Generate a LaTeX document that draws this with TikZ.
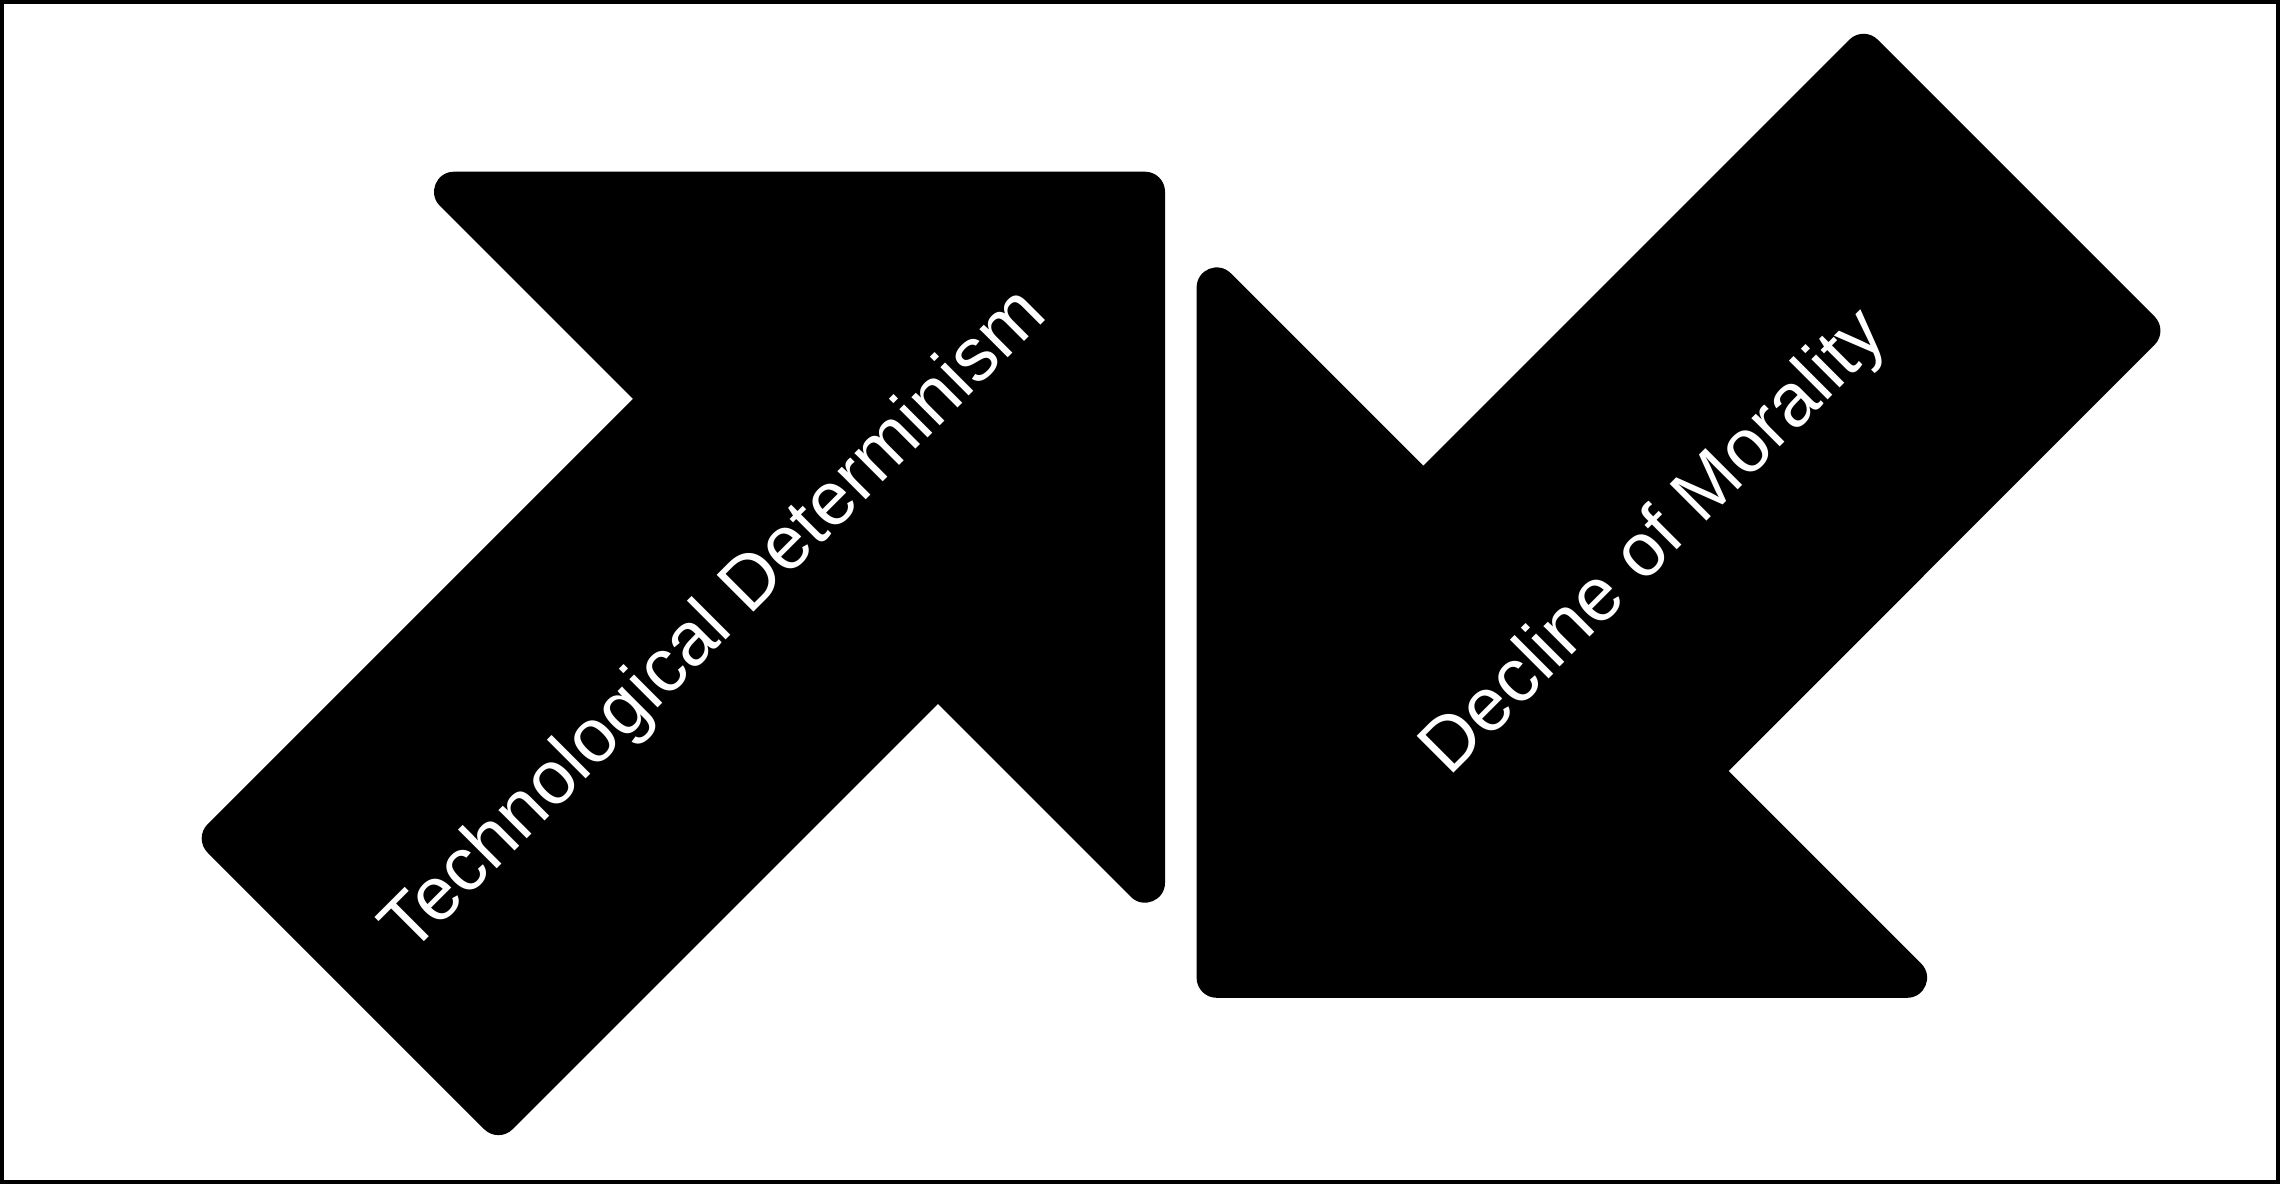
\documentclass[tikz,border=0pt]{standalone}
\usepackage{fontspec}
\setmainfont{Liberation Sans}
\usetikzlibrary{calc}
\begin{document}
\begin{tikzpicture}[x=0.01cm,y=0.01cm,
  arrowfill/.style={fill=black,draw=none},
  arrowlabel/.style={text=white,rotate=45,inner sep=0pt,font=\fontsize{21.5pt}{26pt}\selectfont},
  frame/.style={draw=black,line width=0.04cm}]
\useasboundingbox (0,0) rectangle (2280,1184);
% left arrow vertices
\coordinate (L1) at (193.4,345.6);
\coordinate (L2) at (632.9,785.1);
\coordinate (L3) at (405.7,1012.3);
\coordinate (L4) at (1165,1012.3);
\coordinate (L5) at (1165,253);
\coordinate (L6) at (937.9,480.1);
\coordinate (L7) at (498.4,40.6);
% right arrow vertices
\coordinate (R1) at (1863.5,1158.5);
\coordinate (R2) at (2168.7,853.3);
\coordinate (R3) at (1728.5,413);
\coordinate (R4) at (1955.4,186.2);
\coordinate (R5) at (1196.6,186.2);
\coordinate (R6) at (1196.6,944.9);
\coordinate (R7) at (1423.25,718.25);
% left arrow
\path[arrowfill] (L2)
  -- ($(L3)!0.483cm!(L2)$) .. controls ($(L3)!0.305cm!(L2)$) and ($(L3)!0.305cm!(L4)$) .. ($(L3)!0.483cm!(L4)$)
  -- ($(L4)!0.2cm!(L3)$) .. controls ($(L4)!0.0895cm!(L3)$) and ($(L4)!0.0895cm!(L5)$) .. ($(L4)!0.2cm!(L5)$)
  -- ($(L5)!0.483cm!(L4)$) .. controls ($(L5)!0.305cm!(L4)$) and ($(L5)!0.305cm!(L6)$) .. ($(L5)!0.483cm!(L6)$)
  -- (L6)
  -- ($(L7)!0.2cm!(L6)$) .. controls ($(L7)!0.0895cm!(L6)$) and ($(L7)!0.0895cm!(L1)$) .. ($(L7)!0.2cm!(L1)$)
  -- ($(L1)!0.2cm!(L7)$) .. controls ($(L1)!0.0895cm!(L7)$) and ($(L1)!0.0895cm!(L2)$) .. ($(L1)!0.2cm!(L2)$)
  -- cycle;
% right arrow
\path[arrowfill] (R7)
  -- ($(R1)!0.2cm!(R7)$) .. controls ($(R1)!0.0895cm!(R7)$) and ($(R1)!0.0895cm!(R2)$) .. ($(R1)!0.2cm!(R2)$)
  -- ($(R2)!0.2cm!(R1)$) .. controls ($(R2)!0.0895cm!(R1)$) and ($(R2)!0.0895cm!(R3)$) .. ($(R2)!0.2cm!(R3)$)
  -- (R3)
  -- ($(R4)!0.483cm!(R3)$) .. controls ($(R4)!0.305cm!(R3)$) and ($(R4)!0.305cm!(R5)$) .. ($(R4)!0.483cm!(R5)$)
  -- ($(R5)!0.2cm!(R4)$) .. controls ($(R5)!0.0895cm!(R4)$) and ($(R5)!0.0895cm!(R6)$) .. ($(R5)!0.2cm!(R6)$)
  -- ($(R6)!0.483cm!(R5)$) .. controls ($(R6)!0.305cm!(R5)$) and ($(R6)!0.305cm!(R7)$) .. ($(R6)!0.483cm!(R7)$)
  -- cycle;
% labels
\node[arrowlabel] (tdet) at (716,562) {Technological Determinism};
\node[arrowlabel] (dmor) at (1656,640) {Decline of Morality};
% frame
\draw[frame] (2,2) rectangle (2278,1182);
\end{tikzpicture}
\end{document}
